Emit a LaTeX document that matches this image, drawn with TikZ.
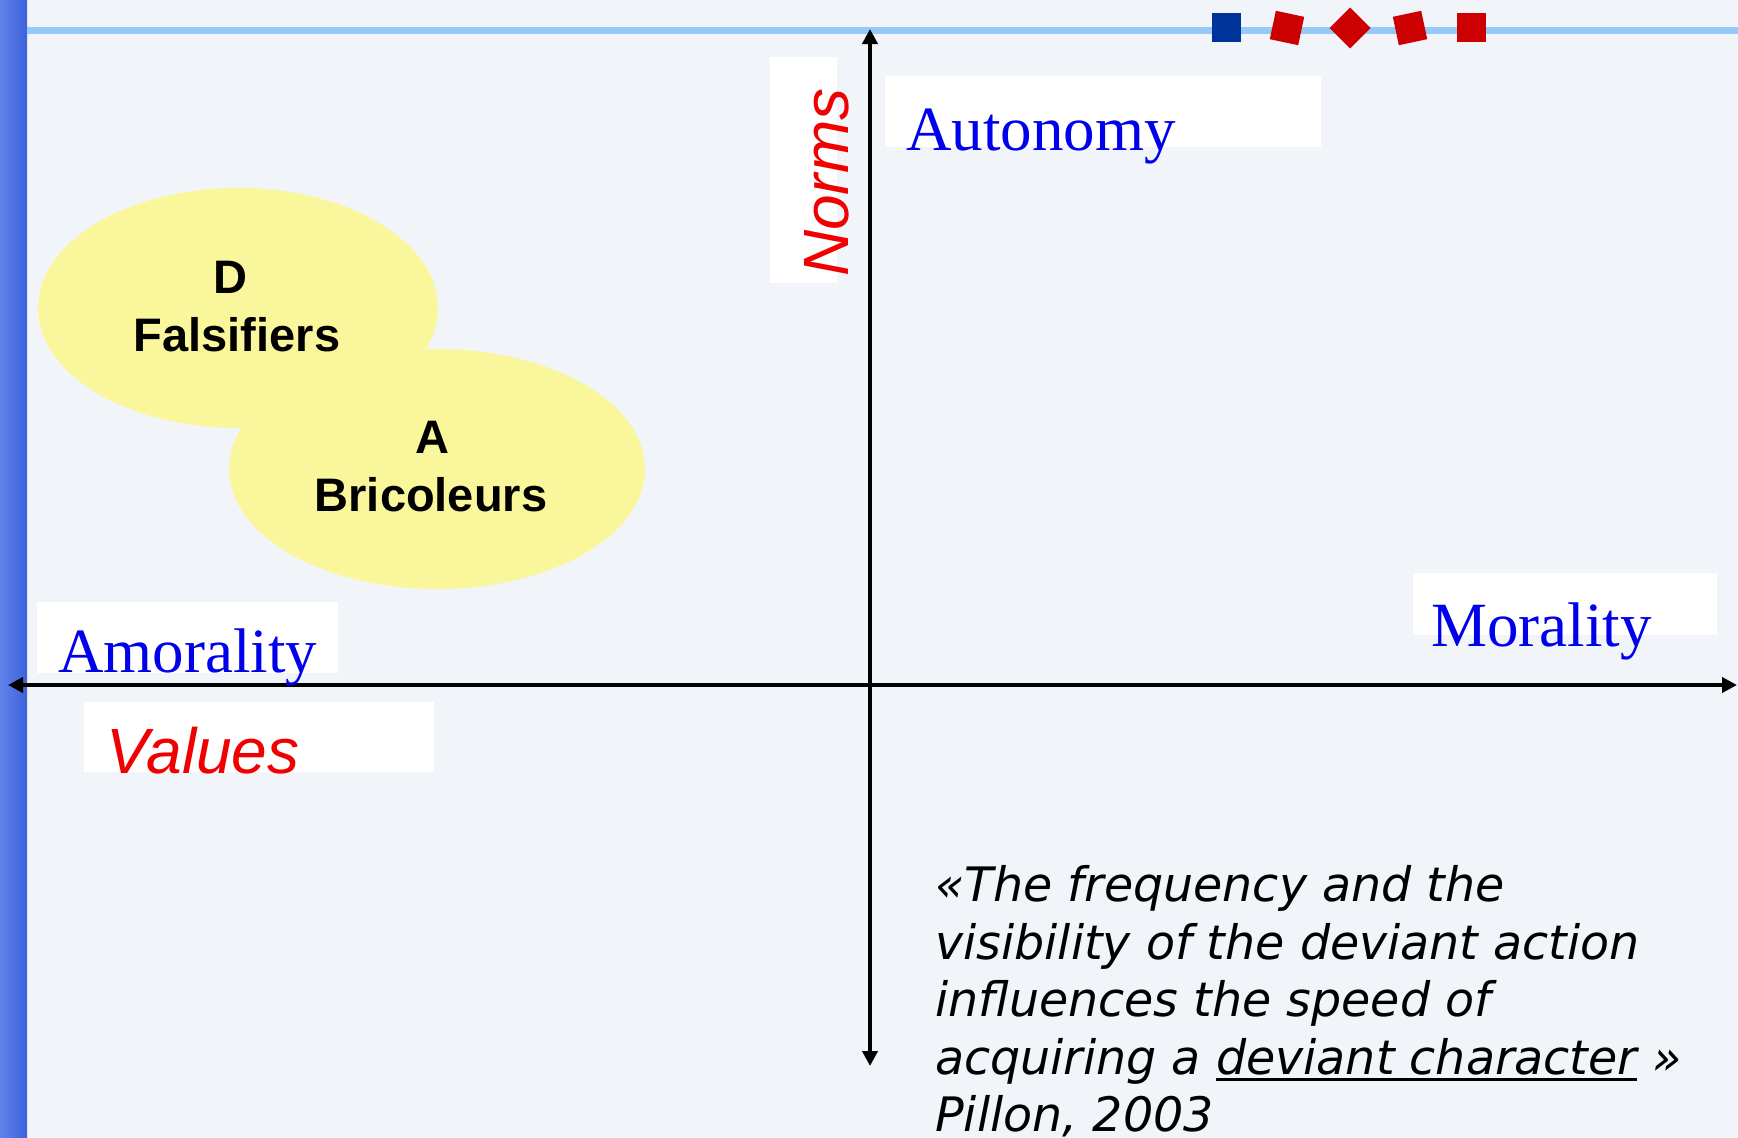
\documentclass[tikz,border=0pt]{standalone}
\usepackage{fontspec}
\setmainfont{Liberation Serif}
\newfontfamily\arialf{Liberation Sans}
\newfontfamily\quotef{DejaVu Sans}[ItalicFont={DejaVu Sans Oblique}]
\usetikzlibrary{arrows.meta}
\definecolor{bgc}{RGB}{241,245,250}
\definecolor{barL}{RGB}{95,130,232}
\definecolor{barR}{RGB}{62,98,220}
\definecolor{topline}{RGB}{150,200,248}
\definecolor{sqblue}{RGB}{0,51,153}
\definecolor{sqred}{RGB}{204,0,0}
\definecolor{ellc}{RGB}{250,246,155}
\definecolor{lblblue}{RGB}{0,0,235}
\definecolor{lblred}{RGB}{240,0,0}
\newcommand\myul[1]{\setbox0\hbox{#1}\rlap{\rule[-7pt]{\wd0}{2.6pt}}\box0\relax}
\begin{document}
\begin{tikzpicture}[x=1pt,y=-1pt,
  whitebox/.style={fill=white,draw=none},
  sq/.style={minimum size=29pt,inner sep=0pt,draw=none,rectangle},
  serlbl/.style={inner sep=0pt,anchor=base west,text=lblblue,font=\fontsize{63}{70}\selectfont},
  sanslbl/.style={inner sep=0pt,anchor=base west,text=lblred,font=\arialf\itshape\fontsize{64}{70}\selectfont},
  elltext/.style={inner sep=0pt,anchor=base,font=\arialf\bfseries\fontsize{47}{55}\selectfont},
  qline/.style={inner sep=0pt,anchor=base west,font=\quotef\itshape\fontsize{47.5}{57}\selectfont},
  axis/.style={line width=4pt,{Triangle[length=15pt,width=15pt]}-{Triangle[length=15pt,width=15pt]}}
]
\useasboundingbox (0,0) rectangle (1738,1138);
\fill[bgc] (0,0) rectangle (1738,1138);
\shade[left color=barL,right color=barR] (0,0) rectangle (27,1138);
\fill[topline] (27,26.5) rectangle (1738,33.5);
% decorative squares
\node[sq,fill=sqblue] (s1) at (1226.5,27.5) {};
\node[sq,fill=sqred,rotate=-12] (s2) at (1287,28) {};
\node[sq,fill=sqred,rotate=45] (s3) at (1350,28) {};
\node[sq,fill=sqred,rotate=12] (s4) at (1410,28) {};
\node[sq,fill=sqred] (s5) at (1471,27.5) {};
% white label boxes
\fill[whitebox] (885,76) rectangle (1321,147);
\fill[whitebox] (1413,573) rectangle (1717,635);
\fill[whitebox] (37,602) rectangle (338,673);
\fill[whitebox] (84,702) rectangle (434,772);
\fill[whitebox] (770,57) rectangle (837,283);
% ellipses
\fill[ellc] (238,308) ellipse [x radius=200, y radius=120];
\fill[ellc] (437,469) ellipse [x radius=208, y radius=120];
\node[elltext] (d) at (230,293) {D};
\node[elltext] (dname) at (237,351) {Falsifiers};
\node[elltext] (a) at (432,453) {A};
\node[elltext] (aname) at (431,511) {Bricoleurs};
% axes
\coordinate (L) at (8,685);
\coordinate (R) at (1737,685);
\coordinate (T) at (870,29);
\coordinate (B) at (870,1066);
\draw[axis] (L) -- (R);
\draw[axis] (B) -- (T);
% labels
\node[serlbl] (auto) at (906,150) {Autonomy};
\node[serlbl] (mor) at (1431,646) {Morality};
\node[serlbl] (amor) at (58,672) {Amorality};
\node[sanslbl] (val) at (106,773) {Values};
\node[sanslbl,rotate=90] (norms) at (848,277) {Norms};
% quote
\node[qline] (q1) at (935,901) {«The frequency and the};
\node[qline] (q2) at (935,959) {visibility of the deviant action};
\node[qline] (q3) at (935,1016) {influences the speed of};
\node[qline] (q4) at (935,1074) {acquiring a \myul{deviant character} »};
\node[qline] (q5) at (935,1131) {Pillon, 2003};
\end{tikzpicture}
\end{document}
